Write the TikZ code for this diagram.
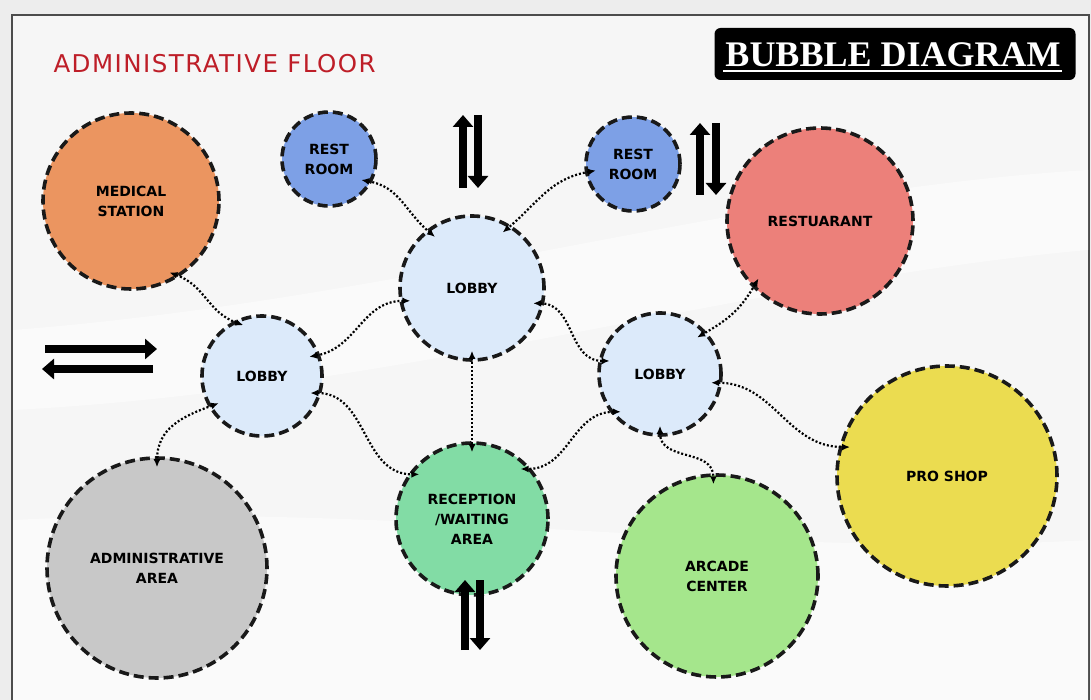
\documentclass[tikz,border=0pt]{standalone}
\usepackage{fontspec}
\setmainfont{DejaVu Sans}
\newfontfamily\titlefont{Liberation Serif}
\newfontfamily\floorfont[LetterSpace=6]{DejaVu Sans}
\usetikzlibrary{positioning, arrows.meta}

\definecolor{floorred}{HTML}{BE1E28}
\definecolor{medorange}{HTML}{EB9560}
\definecolor{restblue}{HTML}{7DA0E6}
\definecolor{lobbyblue}{HTML}{DCEAFA}
\definecolor{restred}{HTML}{EC807A}
\definecolor{admingray}{HTML}{C8C8C8}
\definecolor{recepgreen}{HTML}{82DCA5}
\definecolor{arcadegreen}{HTML}{A5E68C}
\definecolor{shopyellow}{HTML}{EBDC50}

\begin{document}
\begin{tikzpicture}[x=1pt, y=1pt, on grid,
    bubble/.style={circle, draw=black!90, line width=3.6pt, dash pattern=on 10pt off 5pt,
        align=center, inner sep=0pt, font=\fontsize{14}{20}\selectfont\bfseries},
    link/.style={<->, >={Latex[length=8pt, width=7pt]}, line width=2.2pt,
        dash pattern=on 2pt off 2pt, shorten <=-11pt, shorten >=-11pt},
    flow/.style={line width=8.5pt, -{Triangle[length=12pt, width=20pt]}}]
    \useasboundingbox (0,0) rectangle (1091,-700);
    % background and frame
    \fill[gray!14] (0,0) rectangle (1091,-700);
    \draw[fill=gray!7, draw=black!70, line width=1.5pt] (12,-15) rectangle (1089,-710);
    \fill[white, opacity=.5] (13,-330) .. controls (400,-300) and (750,-190) .. (1088,-170)
        -- (1088,-250) .. controls (750,-280) and (400,-390) .. (13,-410) -- cycle;
    \fill[white, opacity=.5] (13,-520) .. controls (400,-500) and (750,-560) .. (1088,-540)
        -- (1088,-700) -- (13,-700) -- cycle;

    % titles
    \node[anchor=west, text=floorred, font=\floorfont\fontsize{24.5}{26}\selectfont] (floor) at (50,-64) {ADMINISTRATIVE FLOOR};
    \node[fill=black, rounded corners=6pt, minimum width=361pt, minimum height=52pt] (titlebox) at (895,-54) {};
    \node[text=white, font=\titlefont\bfseries\fontsize{36}{36}\selectfont] (titletext) at (893,-55) {BUBBLE DIAGRAM};
    \draw[white, line width=2pt] ([xshift=9pt, yshift=9pt]titlebox.south west) -- ([xshift=-14pt, yshift=9pt]titlebox.south east);

    % bubbles
    \node[bubble, fill=lobbyblue, minimum size=144pt] (lobby) at (472,-288) {LOBBY};
    \node[bubble, fill=lobbyblue, minimum size=120pt] (lobbyL) [below left=88pt and 210pt of lobby] {LOBBY};
    \node[bubble, fill=lobbyblue, minimum size=122pt] (lobbyR) [below right=86pt and 188pt of lobby] {LOBBY};
    \node[bubble, fill=recepgreen, minimum size=152pt] (recep) [below=231pt of lobby] {RECEPTION\\/WAITING\\AREA};
    \node[bubble, fill=restblue, minimum size=94pt] (rest1) [above left=129pt and 143pt of lobby] {REST\\ROOM};
    \node[bubble, fill=restblue, minimum size=94pt] (rest2) [above right=124pt and 161pt of lobby] {REST\\ROOM};
    \node[bubble, fill=medorange, minimum size=176pt] (med) [above left=175pt and 131pt of lobbyL] {MEDICAL\\STATION};
    \node[bubble, fill=admingray, minimum size=220pt] (admin) [below left=192pt and 105pt of lobbyL] {ADMINISTRATIVE\\AREA};
    \node[bubble, fill=restred, minimum size=186pt] (restaurant) [above right=153pt and 160pt of lobbyR] {RESTUARANT};
    \node[bubble, fill=arcadegreen, minimum size=202pt] (arcade) [below right=202pt and 57pt of lobbyR] {ARCADE\\CENTER};
    \node[bubble, fill=shopyellow, minimum size=220pt] (proshop) [below right=102pt and 287pt of lobbyR] {PRO SHOP};

    % circulation arrows
    \coordinate (wa) at (45,-349);  \coordinate (wb) at (157,-349);
    \coordinate (wc) at (153,-369); \coordinate (wd) at (42,-369);
    \coordinate (na) at (463,-188); \coordinate (nb) at (463,-115);
    \coordinate (nc) at (478,-115); \coordinate (nd) at (478,-188);
    \coordinate (ea) at (700,-195); \coordinate (eb) at (700,-123);
    \coordinate (ec) at (716,-123); \coordinate (ed) at (716,-195);
    \coordinate (sa) at (465,-650); \coordinate (sb) at (465,-580);
    \coordinate (sc) at (480,-580); \coordinate (sd) at (480,-650);
    \draw[flow] (wa) -- (wb);
    \draw[flow] (wc) -- (wd);
    \draw[flow] (na) -- (nb);
    \draw[flow] (nc) -- (nd);
    \draw[flow] (ea) -- (eb);
    \draw[flow] (ec) -- (ed);
    \draw[flow] (sa) -- (sb);
    \draw[flow] (sc) -- (sd);

    % links
    \path[link]
    (med.-57) edge[out=-20, in=160] (lobbyL.118)
    (rest1.-28) edge[out=-10, in=140] (lobby.128)
    (rest2.190) edge[out=190, in=40] (lobby.58)
    (lobbyL.20) edge[out=10, in=180] (lobby.190)
    (lobby.-90) edge (recep.90)
    (lobby.-12) edge[out=0, in=180] (lobbyR.168)
    (lobbyL.-16) edge[out=0, in=180] (recep.145)
    (lobbyR.-143) edge[out=180, in=0] (recep.40)
    (restaurant.-135) edge[out=-120, in=30] (lobbyR.42)
    (lobbyL.-150) edge[out=-160, in=90] (admin.90)
    (lobbyR.-90) edge[out=-90, in=90] (arcade.92)
    (lobbyR.-8) edge[out=0, in=180] (proshop.165);
\end{tikzpicture}
\end{document}
